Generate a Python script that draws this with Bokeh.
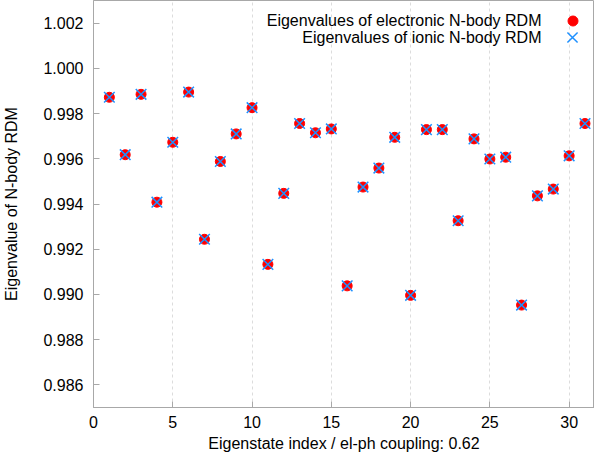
from bokeh.plotting import figure
from bokeh.models import (FixedTicker, NumeralTickFormatter, Label, Legend, LegendItem, Range1d)
from bokeh.embed import file_html
from bokeh.resources import INLINE

# ---- data ----
state_index = list(range(1, 33))
eig_electronic = [0.99872, 0.99618, 0.99885, 0.99408, 0.99673, 0.99895, 0.99244, 0.99588,
                  0.99710, 0.99826, 0.99133, 0.99447, 0.99756, 0.99715, 0.99732, 0.99038,
                  0.99475, 0.99559, 0.99695, 0.98996, 0.99729, 0.99729, 0.99326, 0.99688,
                  0.99599, 0.99607, 0.98953, 0.99436, 0.99466, 0.99613, 0.99756, 0.99705]
eig_ionic = list(eig_electronic)
x_ticks = [0, 5, 10, 15, 20, 25, 30]
y_ticks = [0.986, 0.988, 0.990, 0.992, 0.994, 0.996, 0.998, 1.000, 1.002]
legend_labels = ["Eigenvalues of electronic N-body RDM", "Eigenvalues of ionic N-body RDM"]
x_label = "Eigenstate index / el-ph coupling: 0.62"
y_label = "Eigenvalue of N-body RDM"

FONT = "Liberation Sans"
GRAY = "#a8a8a8"

p = figure(width=594, height=454, output_backend="svg", toolbar_location=None,
           x_range=Range1d(0, 31.6), y_range=Range1d(0.985, 1.003),
           min_border_left=85, min_border_right=0, min_border_top=0, min_border_bottom=0)

p.background_fill_color = "white"
p.border_fill_color = "white"
p.outline_line_color = GRAY
p.outline_line_width = 1

for ax in (p.xaxis[0], p.yaxis[0]):
    ax.axis_line_color = GRAY
    ax.major_tick_line_color = GRAY
    ax.major_tick_in = 6
    ax.major_tick_out = 0
    ax.minor_tick_line_color = None
    ax.major_label_text_font = FONT
    ax.major_label_text_font_size = "16px"
    ax.major_label_text_color = "black"
    ax.axis_label_text_font = FONT
    ax.axis_label_text_font_size = "16px"
    ax.axis_label_text_font_style = "normal"
    ax.axis_label_text_color = "black"

p.xaxis.ticker = FixedTicker(ticks=x_ticks)
p.yaxis.ticker = FixedTicker(ticks=y_ticks)
p.yaxis.formatter = NumeralTickFormatter(format="0.000")
p.xaxis.axis_label = x_label
p.yaxis.axis_label = y_label
p.xaxis.major_label_standoff = 8
p.xaxis.axis_label_standoff = 4
p.yaxis.major_label_standoff = 10
p.yaxis.axis_label_standoff = 20

p.xgrid.grid_line_color = "#dcdcdc"
p.xgrid.grid_line_dash = "3 3"
p.ygrid.grid_line_color = None

r_el = p.scatter(state_index, eig_electronic, marker="circle", size=10,
                 fill_color="#ff0000", line_color="#ff0000")
r_ion = p.scatter(state_index, eig_ionic, marker="x", size=15,
                  line_color="#1e90ff", line_width=1.5)

# legend: text on the left, marker on the right (gnuplot style)
FRAME_H = 400                # estimated frame height in px
row_from_top = [13, 30]
row_y = [FRAME_H - r for r in row_from_top]
for lbl, ry in zip(legend_labels, row_y):
    p.add_layout(Label(x=448, y=ry, x_units="screen", y_units="screen", text=lbl,
                       text_align="right", text_baseline="middle",
                       text_font=FONT, text_font_size="16px", text_color="black"))

for rend, ry, gs in zip([r_el, r_ion], row_y, [25, 36]):
    lg = Legend(items=[LegendItem(label=" ", renderers=[rend])],
                location=(479 - gs / 2, ry - gs / 2), glyph_width=gs, glyph_height=gs,
                label_text_font_size="1px", label_standoff=0, label_width=0,
                padding=0, margin=0, spacing=0,
                background_fill_alpha=0, border_line_color=None)
    p.add_layout(lg, "center")

open("out.html", "w").write(file_html(p, INLINE))
